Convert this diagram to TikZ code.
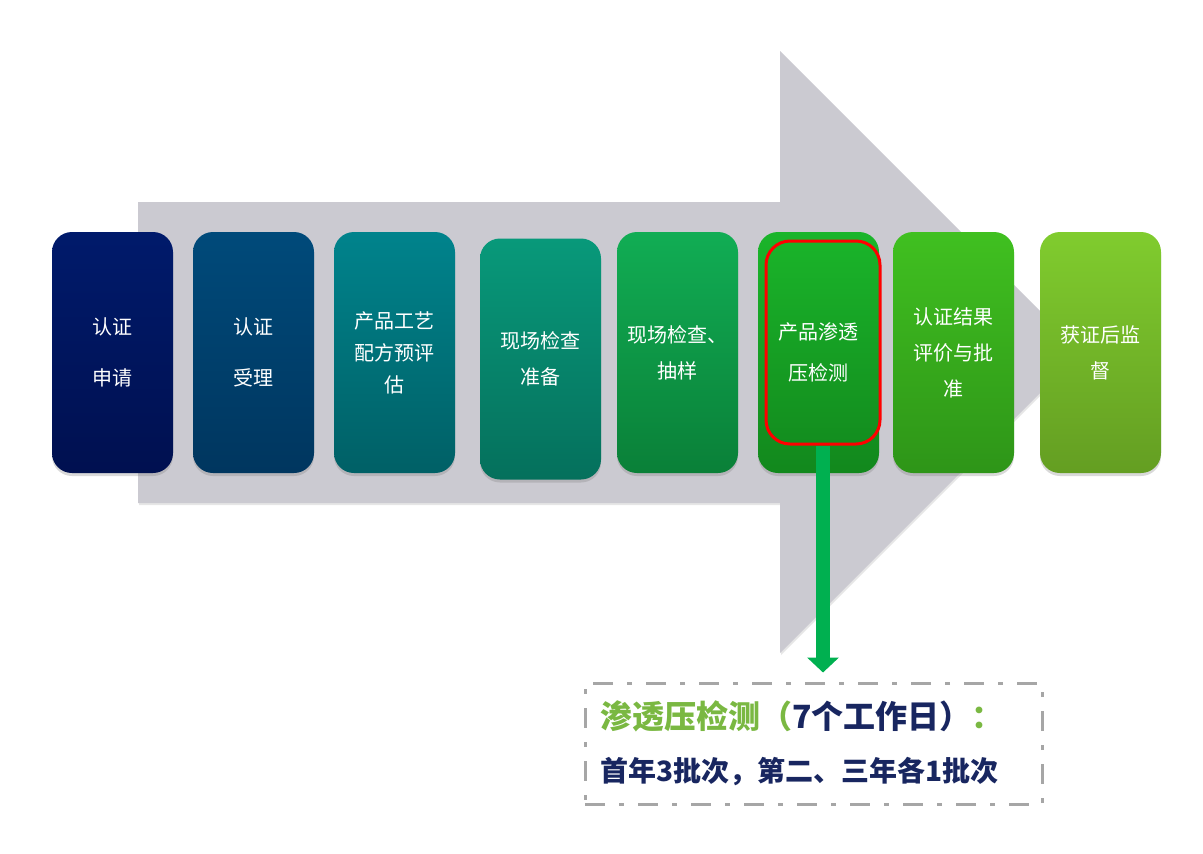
\documentclass[tikz,border=0pt]{standalone}
\usepackage{fontspec}
\newfontfamily\cjk{Noto Sans CJK SC}
\usepackage{tikz}
\usetikzlibrary{arrows.meta,shadows,positioning}
\definecolor{arrowgrey}{RGB}{203,202,209}
\definecolor{linkgreen}{RGB}{0,176,80}
\definecolor{notegrey}{RGB}{166,166,166}
\definecolor{titlegreen}{RGB}{122,184,66}
\definecolor{navy}{RGB}{24,38,96}
\tikzset{>={Triangle[width=15.5pt,length=7.5pt]},
	stage/.style={rounded corners=10pt,minimum width=60.5pt,minimum height=120.5pt,inner sep=0pt,align=center,text=white,font=\cjk\fontsize{10}{18}\selectfont,drop shadow={opacity=0.3,shadow xshift=0pt,shadow yshift=-1.5pt}},
	hilite/.style={draw=red,line width=1.5pt,rounded corners=12pt,minimum width=57pt,minimum height=101.5pt,inner sep=0pt},
	link/.style={->,draw=linkgreen,line width=7pt,shorten >=4.5pt},
	note/.style={draw=notegrey,line width=1.5pt,dash pattern=on 10pt off 7pt on 2.5pt off 7pt,minimum width=228.5pt,minimum height=60.5pt,text width=213.5pt,inner xsep=7.5pt,align=left,font=\cjk\bfseries\fontsize{16}{26.5}\selectfont}}
\begin{document}
\begin{tikzpicture}[x=0.5pt,y=-0.5pt]
	\useasboundingbox (0,0) rectangle (1203,853);
	\fill [arrowgrey,drop shadow={opacity=0.2,shadow xshift=0.5pt,shadow yshift=-1pt}]
	(138,202) -- (780,202) -- (780,51) -- (1081,352) -- (780,653) -- (780,503) -- (138,503) -- cycle;
	\node (S1) at (112.5,352.5) [stage,top color={rgb,255:red,0;green,26;blue,107},bottom color={rgb,255:red,0;green,16;blue,80},font=\cjk\fontsize{10}{25.5}\selectfont] {认证\\申请};
	\node (S2) at (253.5,352.5) [stage,top color={rgb,255:red,0;green,74;blue,122},bottom color={rgb,255:red,0;green,54;blue,95},font=\cjk\fontsize{10}{25.5}\selectfont] {认证\\受理};
	\node (S3) at (394.5,352.5) [stage,top color={rgb,255:red,0;green,131;blue,140},bottom color={rgb,255:red,0;green,96;blue,102},font=\cjk\fontsize{10}{16}\selectfont] {产品工艺\\配方预评\\估};
	\node (S4) at (540.5,359) [stage,top color={rgb,255:red,8;green,153;blue,122},bottom color={rgb,255:red,5;green,112;blue,92}] {现场检查\\准备};
	\node (S5) at (677.5,352.5) [stage,top color={rgb,255:red,17;green,173;blue,84},bottom color={rgb,255:red,10;green,128;blue,56}] {现场检查、\\抽样};
	\node (S6) at (818.5,352.5) [stage,top color={rgb,255:red,26;green,181;blue,42},bottom color={rgb,255:red,18;green,136;blue,29},font=\cjk\fontsize{10}{20.5}\selectfont] {产品渗透\\压检测};
	\node (S7) at (953.5,352.5) [stage,top color={rgb,255:red,64;green,192;blue,32},bottom color={rgb,255:red,46;green,149;blue,24}] {认证结果\\评价与批\\准};
	\node (S8) at (1100.5,352.5) [stage,top color={rgb,255:red,128;green,204;blue,46},bottom color={rgb,255:red,100;green,158;blue,34}] {获证后监\\督};
	\node (R) at (823,342.5) [hilite] {};
	\node (note) at (813.5,743.5) [note]
	{\textcolor{titlegreen}{渗透压检测（}\textcolor{navy}{7个工作日）}\textcolor{titlegreen}{：}\\
	\fontsize{14}{26.5}\selectfont\textcolor{navy}{首年3批次，第二、三年各1批次}};
	\draw [link] (R.south) -- (R.south |- note.north);
\end{tikzpicture}
\end{document}
